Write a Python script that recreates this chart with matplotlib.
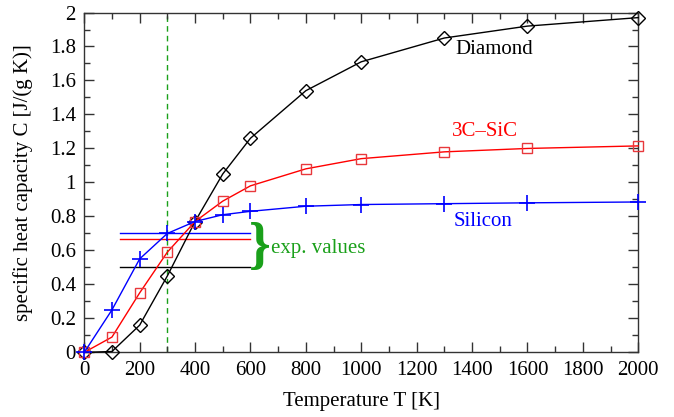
import matplotlib
matplotlib.use("Agg")
import matplotlib.pyplot as plt
from matplotlib.ticker import MultipleLocator

plt.rcParams['font.family'] = ['Liberation Serif', 'DejaVu Serif']

temps = [0, 100, 200, 300, 400, 500, 600, 800, 1000, 1300, 1600, 2000]
diamond = [0.0, 0.005, 0.16, 0.45, 0.77, 1.05, 1.26, 1.54, 1.71, 1.85, 1.92, 1.97]
sic = [0.0, 0.09, 0.35, 0.59, 0.77, 0.89, 0.98, 1.08, 1.14, 1.18, 1.20, 1.215]
silicon = [0.0, 0.25, 0.55, 0.70, 0.77, 0.81, 0.83, 0.86, 0.87, 0.875, 0.88, 0.885]

exp_range = [130, 600]
exp_silicon = 0.70
exp_sic = 0.67
exp_diamond = 0.50
room_temp = 300

fig = plt.figure(figsize=(6.74, 4.17), dpi=100)
ax = fig.add_axes([0.125, 0.155, 0.822, 0.815])

ax.plot(temps, diamond, color='black', lw=1.0, marker='D', ms=7,
        mfc='none', mec='black', mew=1.0, clip_on=False, zorder=3)
ax.plot(temps, sic, color='red', lw=1.0, marker='s', ms=7,
        mfc='none', mec='#e8383c', mew=1.0, clip_on=False, zorder=3)
ax.plot(temps, silicon, color='blue', lw=1.0, marker='+', ms=12,
        mec='blue', mew=1.2, clip_on=False, zorder=3)

ax.plot(exp_range, [exp_silicon] * 2, color='blue', lw=1.0)
ax.plot(exp_range, [exp_sic] * 2, color='red', lw=1.0)
ax.plot(exp_range, [exp_diamond] * 2, color='black', lw=1.0)
ax.axvline(room_temp, color='#1aa01a', lw=1.0, ls=(0, (4, 3)), zorder=1)

ax.text(632, 0.615, '}', color='#1aa01a', fontsize=40, ha='center',
        va='center', fontweight='bold')
ax.text(675, 0.61, 'exp. values', color='#1aa01a', fontsize=15,
        ha='left', va='center')

ax.text(1480, 1.78, 'Diamond', color='black', fontsize=15, ha='center', va='center')
ax.text(1445, 1.30, '3C\u2013SiC', color='red', fontsize=15, ha='center', va='center')
ax.text(1440, 0.77, 'Silicon', color='blue', fontsize=15, ha='center', va='center')

ax.set_xlim(0, 2000)
ax.set_ylim(0, 2)
ax.xaxis.set_major_locator(MultipleLocator(200))
ax.xaxis.set_minor_locator(MultipleLocator(100))
ax.yaxis.set_minor_locator(MultipleLocator(0.1))
ax.set_yticks([0, 0.2, 0.4, 0.6, 0.8, 1, 1.2, 1.4, 1.6, 1.8, 2])
ax.set_yticklabels(['0', '0.2', '0.4', '0.6', '0.8', '1', '1.2', '1.4', '1.6', '1.8', '2'])
ax.tick_params(which='both', direction='in', top=True, right=True, labelsize=15,
               width=1.0, color='#333333')
ax.tick_params(which='major', length=7)
ax.tick_params(which='minor', length=4)
ax.tick_params(axis='x', which='major', pad=6)
ax.tick_params(axis='y', which='major', pad=6)
for s in ax.spines.values():
    s.set_linewidth(1.0)
    s.set_color('#333333')

ax.set_xlabel('Temperature T [K]', fontsize=15, labelpad=9)
ax.set_ylabel('specific heat capacity C [J/(g K)]', fontsize=15, labelpad=12)

fig.savefig('out.png', dpi=100)
